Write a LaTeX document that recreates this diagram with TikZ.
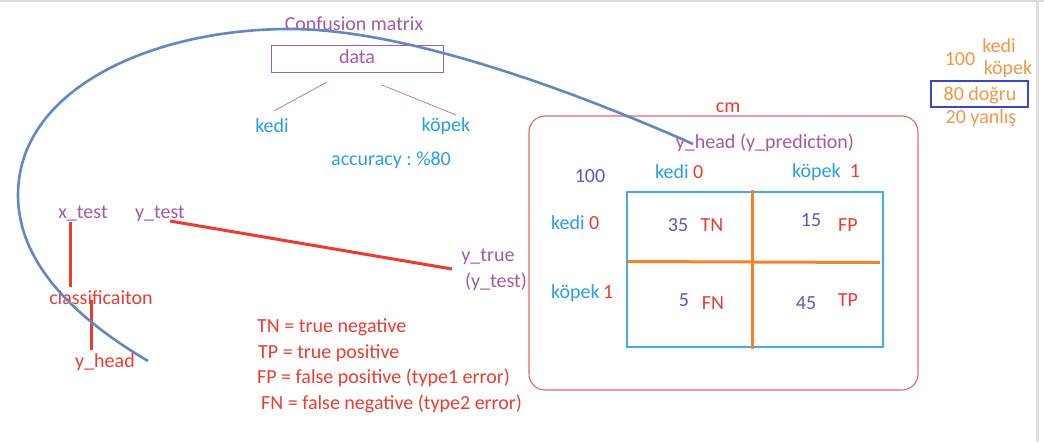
\documentclass[tikz,border=0pt]{standalone}
\usepackage{fontspec}
\setmainfont{Carlito}
\frenchspacing
\definecolor{cpurple}{RGB}{165,90,165}
\definecolor{cblue}{RGB}{40,160,225}
\definecolor{cred}{RGB}{235,60,50}
\definecolor{cnavy}{RGB}{90,90,190}
\definecolor{corange}{RGB}{245,150,70}
\definecolor{ccurve}{RGB}{100,135,195}
\definecolor{cbox}{RGB}{235,100,100}
\definecolor{cinner}{RGB}{60,175,230}
\definecolor{cline}{RGB}{245,130,40}
\definecolor{crect}{RGB}{60,70,200}
\begin{document}
\begin{tikzpicture}[x=1pt,y=-1pt,
  lbl/.style={inner sep=0pt,font=\fontsize{20}{22}\selectfont},
  pu/.style={lbl,text=cpurple},
  bl/.style={lbl,text=cblue},
  rd/.style={lbl,text=cred},
  nv/.style={lbl,text=cnavy},
  og/.style={lbl,text=corange},
  redline/.style={draw=cred,line width=3pt},
  orline/.style={draw=cline,line width=3pt}]
\useasboundingbox[fill=white] (0,0) rectangle (1044,442);
\draw[black!15,line width=2pt] (0,1) -- (1044,1);
\draw[black!12,line width=3pt] (1037,0) -- (1037,442);

% top tree
\node[pu] (cmt) at (354,24) {Confusion matrix};
\node[draw=cpurple,line width=0.9pt,minimum width=172pt,minimum height=27pt,inner sep=0pt] (databox) at (357,58.5) {};
\node[pu] (data) at (357,57) {data};
\node[bl] (kedi) at (272,126) {kedi};
\node[bl] (kopek) at (446,126) {köpek};
\draw[cpurple,line width=0.6pt] (327,82) -- (274,111);
\draw[cpurple,line width=0.6pt] (382,85) -- (456,115);
\node[bl] (acc) at (391,160) {accuracy : \%80};

% cm box
\draw[cbox,line width=1.1pt,rounded corners=16pt] (529,116) rectangle (918,390);
\node[lbl,text=cred] (cm) at (728,108) {cm};
\node[pu] (yhp) at (765,143) {y\_head (y\_prediction)};
\node[nv] (hundred) at (590,176) {100};
\node[bl,anchor=west] (ck0) at (655,172) {kedi \textcolor{cred}{0}};
\node[bl,anchor=west] (ck1) at (792,172) {köpek\ \ \textcolor{cred}{1}};
\node[bl,anchor=west] (rk0) at (551,223) {kedi \textcolor{cred}{0}};
\node[bl,anchor=west] (rk1) at (551,293) {köpek\,\textcolor{cred}{1}};
\draw[cinner,line width=1.1pt] (627,192) rectangle (883,347);
\draw[orline] (752,190) -- (752,349);
\draw[orline] (627,261.5) -- (880,262.5);
\node[nv] (n35) at (678,225) {35};
\node[rd] (tn) at (712,225) {TN};
\node[nv] (n15) at (811,220) {15};
\node[rd] (fp) at (848,225) {FP};
\node[nv] (n5) at (684,300) {5};
\node[rd] (fn) at (713,303) {FN};
\node[nv] (n45) at (806,303) {45};
\node[rd] (tp) at (848,300) {TP};

% right side
\node[og] (r100) at (960,59) {100};
\node[og] (rkedi) at (999,46) {kedi};
\node[og] (rkopek) at (1008,69) {köpek};
\draw[crect,line width=2.2pt] (931,81) rectangle (1028,107);
\node[og] (dogru) at (980,95) {80 doğru};
\node[og] (yanlis) at (981,118) {20 yanlış};

% left side
\node[pu] (xtest) at (83,214) {x\_test};
\node[pu] (ytest) at (160,214) {y\_test};
\node[rd] (cls) at (101,298) {classificaiton};
\node[rd] (yhead) at (105,362) {y\_head};
\node[pu] (ytrue) at (488,257) {y\_true};
\node[pu] (ytt) at (496,282) {(y\_test)};
\draw[redline] (70,222) -- (70,287);
\draw[redline] (91,300) -- (91,350);
\draw[redline] (170,221) -- (452,269);

% legend
\node[rd,anchor=west] (l1) at (257,327) {TN = true negative};
\node[rd,anchor=west] (l2) at (258,353) {TP = true positive};
\node[rd,anchor=west] (l3) at (257,378) {FP = false positive (type1 error)};
\node[rd,anchor=west] (l4) at (261,404) {FN = false negative (type2 error)};

% blue curve
\coordinate (cs) at (148,361);
\coordinate (ce) at (693,144);
\draw[ccurve,line width=2.6pt] (cs) .. controls (70,315) and (18,260) .. (18,195)
  .. controls (18,90) and (150,29) .. (290,29)
  .. controls (400,29) and (560,85) .. (ce);
\end{tikzpicture}
\end{document}
